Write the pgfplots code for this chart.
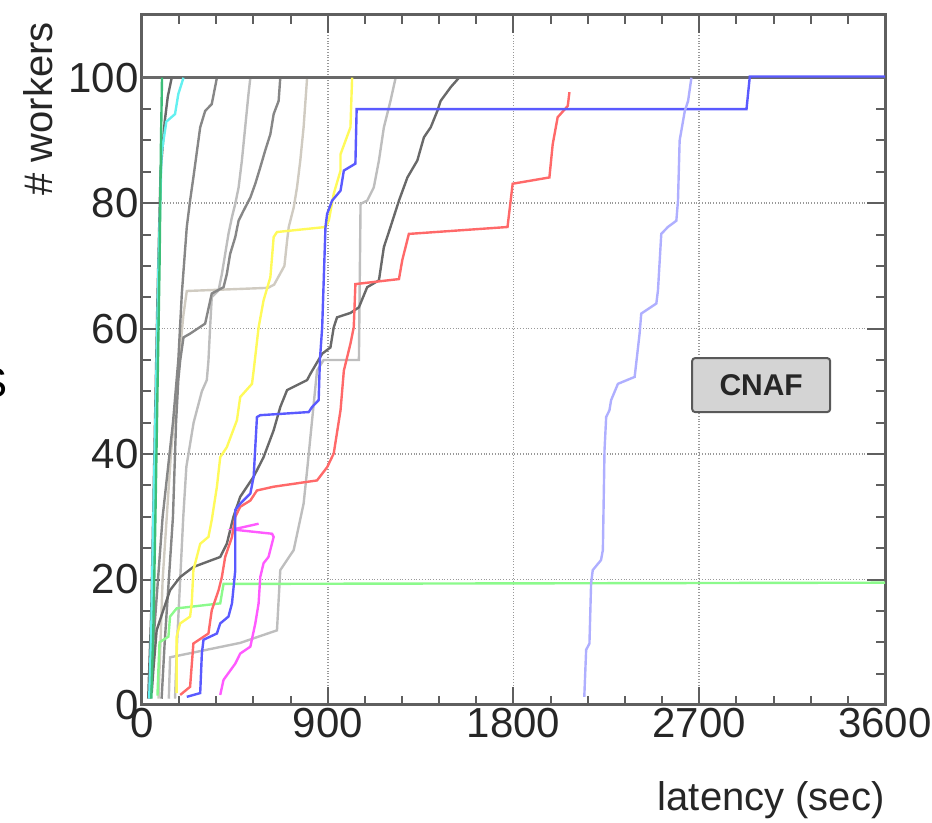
\documentclass[border=0pt]{standalone}
\usepackage{pgfplots}
\pgfplotsset{compat=1.18}
\usepackage{fontspec}
\setmainfont{Liberation Sans}

\definecolor{cmgreen}{RGB}{60,190,120}
\definecolor{cmcyan}{RGB}{100,240,240}
\definecolor{cmyellow}{RGB}{255,250,90}
\definecolor{cmblue}{RGB}{90,90,255}
\definecolor{cmlav}{RGB}{175,175,255}
\definecolor{cmred}{RGB}{255,105,105}
\definecolor{cmmag}{RGB}{255,90,255}
\definecolor{cmlime}{RGB}{140,250,140}
\definecolor{gdark}{RGB}{105,105,105}
\definecolor{gmid}{RGB}{135,135,135}
\definecolor{glight}{RGB}{190,190,190}
\definecolor{gbeige}{RGB}{208,203,193}
\definecolor{framec}{RGB}{95,95,95}

\begin{document}
\begin{tikzpicture}
\begin{axis}[
    at={(0,0)}, anchor=south west,
    scale only axis,
    width=371.5pt, height=345pt,
    xmin=0, xmax=3600, ymin=0, ymax=110,
    xtick={0,900,1800,2700,3600},
    ytick={0,20,40,60,80,100},
    minor x tick num=4, minor y tick num=3,
    tick align=inside,
    major tick length=9pt, minor tick length=4.5pt,
    grid=major,
    grid style={densely dotted, gray!80, line width=0.8pt},
    axis line style={line width=1.5pt, framec},
    tick style={line width=1pt, framec},
    ticklabel style={font=\fontsize{21}{21}\selectfont, text=black!85},
    yticklabel style={inner sep=1.5pt},
    xticklabel style={inner sep=1.5pt},
    /pgf/number format/assume math mode=true,
    /pgf/number format/1000 sep={},
    scaled ticks=false,
    xlabel={latency (sec)},
    ylabel={\# workers},
    xlabel style={font=\fontsize{20}{20}\selectfont, text=black!85,
        at={(axis description cs:1,-0.138)}, anchor=east, inner sep=0pt},
    ylabel style={font=\fontsize{20}{20}\selectfont, text=black!85,
        at={(axis description cs:-0.14,0.99)}, anchor=east, inner sep=0pt},
    every axis plot/.append style={line width=1.2pt, mark=none},
]
% gray curves
\addplot[glight] coordinates {
(130,1)(136,7.6)(476,9.9)(654,11.9)(670,21.5)(735,24.7)(783,32.1)(800,37.4)
(848,53.3)(880,55)(1051,55)(1059,79.9)(1091,80.4)(1123,82.5)(1148,86.8)
(1172,92.1)(1204,96.3)(1229,100)};
\addplot[gbeige] coordinates {
(80,1)(100,20)(140,40)(180,55)(200,62)(217,66)(610,66.5)(640,67)(690,70)
(703,74)(711,76.2)(735,79.3)(751,82.5)(767,86.8)(783,92.1)(800,100)};
\addplot[glight] coordinates {
(160,1)(170,10)(185,20)(200,30)(215,38)(250,45)(290,50)(314,51.8)(322,54.9)
(330,60.2)(338,65)(371,66.1)(387,68.7)(403,71.9)(419,75.1)(436,77.8)
(452,79.9)(468,82.5)(484,86.8)(500,92.1)(516,97.4)(525,100)};
\addplot[gmid] coordinates {
(95,1)(110,10)(130,20)(150,30)(165,45)(176,51.8)(185,54.9)(201,58.6)
(233,59.2)(306,60.8)(338,65.6)(395,66.6)(411,68.7)(427,71.9)(452,74.6)
(468,77.2)(492,78.8)(525,80.9)(549,83.1)(573,85.7)(597,88.4)(622,91)
(638,94.2)(662,96.3)(670,100)};
\addplot[gmid] coordinates {
(40,1)(55,10)(100,30)(150,45)(176,55)(193,65.6)(217,76.2)(233,80.4)
(249,84.1)(282,92.1)(306,94.7)(338,95.8)(363,100)};
\addplot[gdark] coordinates {
(47,1.9)(55,5.6)(71,11.9)(103,15.1)(136,18.3)(185,20.4)(249,22)(314,22.8)
(379,23.6)(411,25.7)(443,30)(476,33.2)(541,36.4)(589,39.5)(638,43.8)
(670,47.5)(703,50.2)(800,51.8)(816,52.8)(873,56)(913,57)(929,60.2)
(945,61.8)(1010,62.5)(1051,63.4)(1091,66.6)(1148,67.7)(1172,73)(1204,76.2)
(1245,80.4)(1286,84.1)(1334,86.8)(1366,90.5)(1399,92.1)(1431,94.7)
(1447,96.3)(1496,98.5)(1536,100)};
\addplot[gdark] coordinates {
(30,1)(45,15)(60,40)(75,65)(90,85)(110,93)(125,97)(144,100)};
% line at 100
\addplot[gdark, line width=1.6pt] coordinates {(0,100)(3600,100)};
% coloured curves
\addplot[cmlime] coordinates {
(75,1.5)(80,6)(85,10)(128,10.9)(136,14.1)(168,15.4)(379,16.2)(395,19.3)
(3600,19.5)};
\addplot[cmyellow] coordinates {
(168,1.9)(168,10.9)(185,13)(233,14.1)(241,16.2)(249,21.5)(282,25.7)
(322,26.8)(338,29.5)(363,34.8)(379,39.5)(411,41.1)(460,45.4)(476,49.1)
(533,51.2)(541,53.3)(565,60.2)(589,64.5)(622,68.2)(638,74.6)(654,75.4)
(889,76.2)(905,77.2)(929,81.5)(962,85.2)(962,87.8)(1010,92.1)(1018,100)};
\addplot[cmmag] coordinates {
(379,1.6)(395,4)(452,6.6)(476,8.2)(525,9.3)(549,13)(565,16.2)(573,20.4)
(589,22.6)(613,23.6)(638,26.8)(630,27.3)(460,27.9)(443,28)(565,28.9)};
\addplot[cmred] coordinates {
(185,1.6)(233,2.9)(249,9.8)(322,11.4)(338,15.1)(371,18.3)(387,20.4)
(403,23.6)(436,26.8)(452,30)(476,31.6)(525,32.6)(557,34.2)(638,34.8)
(848,35.8)(897,37.9)(929,40.1)(962,47)(978,53.3)(1010,57.6)(1026,60.2)
(1034,67.1)(1245,67.9)(1261,70.9)(1293,75.1)(1771,76.2)(1796,83.1)
(1974,84.1)(1990,89.4)(2014,93.7)(2063,95.5)(2071,97.7)};
\addplot[cmblue] coordinates {
(217,1.3)(282,1.9)(290,8.2)(298,10.4)(363,11.4)(379,13)(419,14.1)(436,16.2)
(452,21.5)(452,31.1)(476,32.1)(525,33.7)(541,36.4)(557,45.9)(573,46.2)
(808,46.7)(824,47.5)(856,48.6)(862,55)(873,60.2)(889,76.2)(897,78.3)
(921,80.4)(962,82)(978,85.2)(1034,86.3)(1040,95)(2929,95)(2945,100.2)
(3600,100.2)};
\addplot[cmlav] coordinates {
(2143,1.3)(2152,8.8)(2168,9.8)(2176,19.4)(2184,21.5)(2224,23.1)(2233,24.7)
(2241,40.6)(2249,45.9)(2265,47)(2273,48.6)(2306,51.2)(2387,52.3)(2411,59.2)
(2419,62.4)(2492,64)(2500,66.1)(2516,75.1)(2548,76.2)(2589,77.2)(2597,80.4)
(2605,90)(2630,94.7)(2646,96.3)(2662,100)};
\addplot[cmcyan] coordinates {
(35,1)(45,12)(55,30)(68,50)(80,70)(95,88)(118,93)(160,94.2)(176,97.4)
(201,100)};
\addplot[cmgreen] coordinates {
(45,1)(55,12)(65,30)(75,50)(85,70)(92,90)(97,100)};
\node[draw=black!65, fill=black!17, rounded corners=1.5pt, line width=1pt,
      minimum width=69pt, minimum height=27pt,
      font=\bfseries\fontsize{15}{15}\selectfont, text=black!85]
      at (axis cs:3000,51) {CNAF};
\end{axis}
\node[anchor=east, inner sep=0pt, font=\fontsize{21}{21}\selectfont]
     at (-67pt,161pt) {S};
\pgfresetboundingbox
\path (-71pt,-59pt) rectangle (395pt,352.5pt);
\end{tikzpicture}
\end{document}
